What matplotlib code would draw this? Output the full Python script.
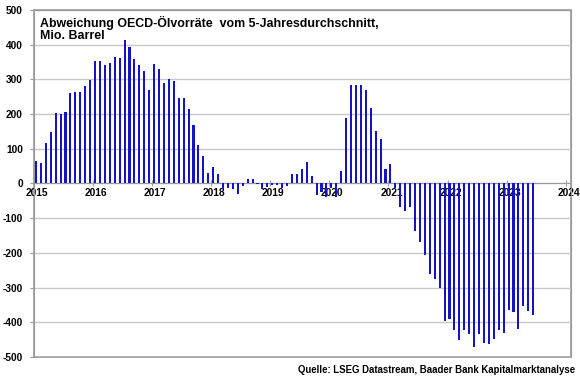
import numpy as np
import matplotlib.pyplot as plt

# Abweichung OECD-Oelvorraete vom 5-Jahresdurchschnitt, Mio. Barrel (monthly)
v2015 = [65, 60, 116, 147, 204, 200, 206, 261, 264, 264, 280, 297]
v2016 = [354, 354, 340, 346, 364, 363, 413, 393, 360, 342, 325, 270]
v2017 = [344, 331, 291, 302, 294, 247, 245, 216, 169, 112, 80, 31]
v2018 = [48, 28, -16, -14, -16, -29, -6, 13, 12, -2, -17, -10]
v2019 = [-4, -3, -12, -7, 27, 27, 42, 63, 21, -32, -24, -40]
v2020 = [-12, -38, 36, 189, 283, 283, 284, 269, 218, 151, 127, 43]
v2021 = [55, -14, -67, -80, -67, -138, -170, -206, -261, -276, -302, -395]
v2022 = [-390, -421, -450, -423, -433, -471, -435, -460, -462, -448, -421, -431]
v2023 = [-366, -371, -419, -354, -367, -378]

years = [2015, 2016, 2017, 2018, 2019, 2020, 2021, 2022, 2023, 2024]
yticks = [-500, -400, -300, -200, -100, 0, 100, 200, 300, 400, 500]

values = v2015 + v2016 + v2017 + v2018 + v2019 + v2020 + v2021 + v2022 + v2023
x = np.arange(len(values))  # months since Jan 2015

plt.rcParams['font.family'] = ['Liberation Sans', 'DejaVu Sans']
plt.rcParams['font.weight'] = 'bold'

fig = plt.figure(figsize=(5.8, 3.78), dpi=100)
ax = fig.add_axes([0.0586, 0.0556, 0.926, 0.918])

grey = '#9a9a9a'
ax.bar(x, values, width=0.42, color='#1414c4', zorder=3)

ax.set_ylim(-500, 500)
ax.set_xlim(-0.4, 108.7)
ax.set_yticks(yticks)
ax.set_yticklabels([str(t) for t in yticks], fontsize=7.3, fontweight='bold')
ax.yaxis.grid(True, color='#c8c8c8', linewidth=1.0, zorder=0)

# x axis crosses at 0
yr_pos = [(y - 2015) * 12 - 0.4 for y in years]
ax.set_xticks(yr_pos)
ax.set_xticklabels([])
ax.spines['bottom'].set_position(('data', 0))
ax.spines['bottom'].set_color(grey)
ax.tick_params(axis='x', direction='inout', length=4, color=grey, width=0.8)
ax.tick_params(axis='y', direction='out', length=3, color=grey, width=0.8, pad=5)
for y, p in zip(years, yr_pos):
    ax.annotate(str(y), (p + 0.6, 0), xytext=(0, -3.5), textcoords='offset points',
                ha='center', va='top', fontsize=7.4, fontweight='bold', zorder=2)

for s in ['left', 'right', 'top']:
    ax.spines[s].set_color(grey)
ax.patch.set_edgecolor(grey)
ax.patch.set_linewidth(1.2)

ax.text(0.011, 0.983, 'Abweichung OECD-Ölvorräte  vom 5-Jahresdurchschnitt,\nMio. Barrel',
        transform=ax.transAxes, ha='left', va='top', fontsize=8.9,
        fontweight='bold', linespacing=1.0)

fig.text(0.992, 0.022, 'Quelle: LSEG Datastream, Baader Bank Kapitalmarktanalyse',
         ha='right', va='center', fontsize=6.9, fontweight='bold')

fig.savefig('out.png', dpi=100)
